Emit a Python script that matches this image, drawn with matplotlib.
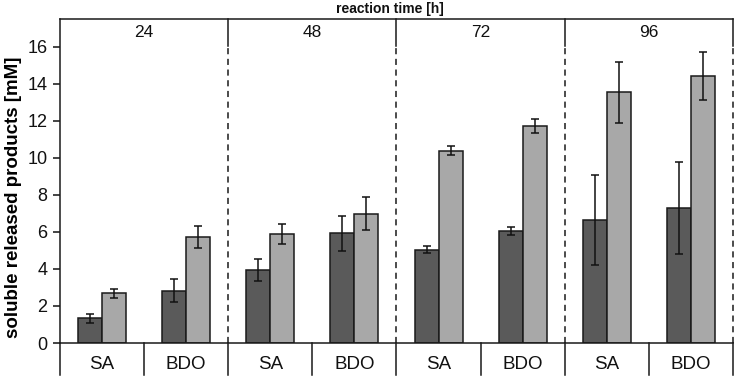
import matplotlib
matplotlib.use("Agg")
import matplotlib.pyplot as plt
import matplotlib.transforms as mtransforms
import numpy as np

plt.rcParams['font.family'] = ['Liberation Sans', 'DejaVu Sans']

times = ["24", "48", "72", "96"]
products = ["SA", "BDO"]
# dark series (first bar) and light series (second bar), order: 24 SA, 24 BDO, 48 SA, ...
dark_vals = [1.33, 2.83, 3.95, 5.92, 5.03, 6.05, 6.65, 7.27]
dark_err = [0.25, 0.62, 0.60, 0.95, 0.19, 0.22, 2.45, 2.48]
light_vals = [2.68, 5.73, 5.89, 6.99, 10.38, 11.73, 13.55, 14.42]
light_err = [0.26, 0.58, 0.52, 0.87, 0.24, 0.38, 1.65, 1.29]
y_ticks = [0, 2, 4, 6, 8, 10, 12, 14, 16]

fig = plt.figure(figsize=(7.37, 3.79), dpi=100)
ax = fig.add_axes([60/737, (379-343)/379, (733-60)/737, (343-19)/379])

n = len(dark_vals)
x = np.arange(n) + 0.5
w = 0.285
lw = 1.1
ax.bar(x - w/2, dark_vals, width=w, color="#5a5a5a", edgecolor="#1a1a1a", linewidth=lw, zorder=2)
ax.bar(x + w/2, light_vals, width=w, color="#a8a8a8", edgecolor="#1a1a1a", linewidth=lw, zorder=2)
ax.errorbar(x - w/2, dark_vals, yerr=dark_err, fmt="none", ecolor="#111111", elinewidth=1.1, capsize=3, capthick=1.1, zorder=3)
ax.errorbar(x + w/2, light_vals, yerr=light_err, fmt="none", ecolor="#111111", elinewidth=1.1, capsize=3, capthick=1.1, zorder=3)

ymax = 17.5
ax.set_xlim(0, n)
ax.set_ylim(0, ymax)
ax.set_yticks(y_ticks)
ax.set_yticklabels([str(t) for t in y_ticks], fontsize=13)
ax.tick_params(axis='y', length=5, width=1.1, direction='out', pad=4, colors="#111111")
ax.set_xticks([])
for s in ["left", "bottom", "top"]:
    ax.spines[s].set_linewidth(1.1)
    ax.spines[s].set_color("#1a1a1a")
ax.spines["right"].set_visible(False)

hdr = 16.05
for gx in [2, 4, 6, 8]:
    ax.plot([gx, gx], [hdr, ymax], color="#1a1a1a", lw=1.1, clip_on=False, zorder=4)
    ax.plot([gx, gx], [0, hdr], color="#1a1a1a", lw=1.1, ls=(0, (4, 3)), clip_on=False, zorder=1)

for i, t in enumerate(times):
    ax.text(2*i + 1, 16.75, t, ha="center", va="center", fontsize=12.5, color="#111111")

trans = mtransforms.blended_transform_factory(ax.transData, ax.transAxes)
for gx in range(0, n + 1):
    ax.plot([gx, gx], [0, -0.099], transform=trans, color="#1a1a1a", lw=1.1, clip_on=False)
for i in range(n):
    ax.text(i + 0.5, -0.066, products[i % 2], transform=trans, ha="center", va="center", fontsize=13.5, color="#111111")

ax.text(3.92, 1.03, "reaction time [h]", transform=trans, ha="center", va="center", fontsize=10, fontweight="bold", color="#111111")
ax.set_ylabel("soluble released products [mM]", fontsize=13.5, fontweight="bold")
ax.yaxis.set_label_coords(-0.0565, 0.449)

fig.savefig("out.png", dpi=100)
